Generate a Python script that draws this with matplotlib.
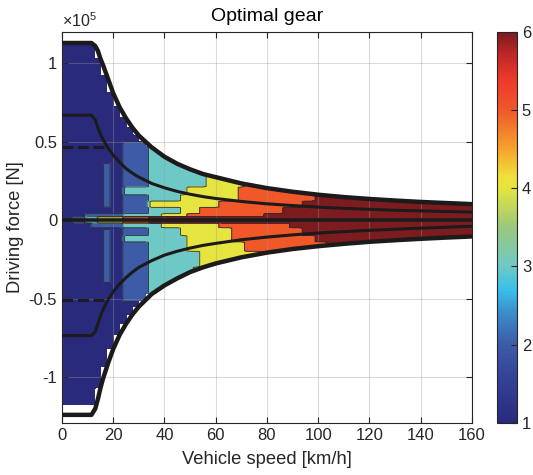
import numpy as np
import matplotlib
matplotlib.use("Agg")
import matplotlib.pyplot as plt
from matplotlib.colors import LinearSegmentedColormap, Normalize
import matplotlib.cm as cm

plt.rcParams['font.family'] = ['Liberation Sans', 'DejaVu Sans']
plt.rcParams['mathtext.fontset'] = 'custom'
plt.rcParams['mathtext.rm'] = 'Liberation Sans'

# ---------------------------
# Data: force envelopes (force in 1e5 N, speed in km/h)
# ---------------------------
env_speed = [0, 11.5, 13, 14, 15, 16, 18, 20, 22.5, 25, 27.5, 30, 35, 40, 45,
             50, 55, 60, 70, 80, 90, 100, 110, 120, 130, 140, 150, 160]
env_max = [1.13, 1.13, 1.11, 1.08, 1.03, 0.99, 0.90, 0.81, 0.72, 0.65, 0.59, 0.54,
           0.465, 0.405, 0.36, 0.325, 0.295, 0.275, 0.235, 0.205, 0.182, 0.163,
           0.148, 0.136, 0.126, 0.117, 0.11, 0.103]
env_min = [-1.24, -1.24, -1.20, -1.14, -1.07, -1.01, -0.91, -0.82, -0.73, -0.66,
           -0.60, -0.55, -0.47, -0.415, -0.37, -0.33, -0.30, -0.275, -0.236,
           -0.206, -0.183, -0.165, -0.15, -0.137, -0.127, -0.118, -0.11, -0.103]
inner_max = [0.67, 0.67, 0.64, 0.59, 0.55, 0.515, 0.46, 0.415, 0.37, 0.33, 0.30,
             0.275, 0.235, 0.207, 0.184, 0.166, 0.151, 0.139, 0.12, 0.105, 0.094,
             0.084, 0.076, 0.07, 0.064, 0.06, 0.056, 0.052]
inner_min = [-0.735, -0.735, -0.71, -0.66, -0.61, -0.57, -0.505, -0.455, -0.405,
             -0.365, -0.33, -0.30, -0.257, -0.222, -0.197, -0.177, -0.16, -0.147,
             -0.124, -0.107, -0.093, -0.081, -0.072, -0.064, -0.057, -0.05,
             -0.044, -0.038]

dash_speed = [0, 17]
dash_max = [0.465, 0.465]
dash_min = [-0.51, -0.51]

map_floor = -1.18  # lowest force covered by the gear map

# ---------------------------
# Data: gear map, shift speeds per force band
# ---------------------------
# positive force bands (lower edge), speeds where gear 1->2, 2->3, ... 5->6
band_lo_pos = [0.00, 0.02, 0.04, 0.08, 0.12, 0.16, 0.21, 0.30, 0.50]
shift_pos = [
    [3, 8, 15, 25, 35],
    [10, 24, 40, 50, 80],
    [24, 33, 47, 55, 86],
    [24, 33, 35, 62, 95],
    [24, 35, 47, 68, 100],
    [24, 24, 50, 70, 108],
    [24, 35, 57, 72, 111],
    [24, 35, 58, 999, 999],
    [999, 999, 999, 999, 999],
]
# negative force bands (|F| lower edge)
band_lo_neg = [0.00, 0.02, 0.05, 0.10, 0.14, 0.20, 0.30, 0.52]
shift_neg = [
    [3, 8, 15, 25, 35],
    [12, 24, 40, 62, 90],
    [24, 33, 47, 67, 95],
    [24, 24, 48, 67, 98],
    [24, 35, 50, 72, 105],
    [24, 35, 55, 80, 111],
    [24, 35, 52, 999, 999],
    [999, 999, 999, 999, 999],
]
# small islands inside gear 1: (v_lo, v_hi, F_lo, F_hi, gear)
islands = [
    (16, 18.5, 0.08, 0.36, 2),
    (16, 18.5, -0.40, -0.06, 2),
]

# colormap stops
cmap_vals = [1.0, 1.5, 2.0, 2.4, 2.7, 3.0, 3.5, 4.0, 4.15, 4.5, 5.0, 5.4, 5.7, 6.0]
cmap_cols = ['#2a2a7c', '#323f95', '#3d5ba6', '#3b8ccc', '#38c0ea', '#6ec9c6',
             '#9ac87c', '#e6e43e', '#f0e03a', '#f5a52d', '#f0582a', '#ec3a2b',
             '#c22828', '#7d1c1e']

# ---------------------------
# Build gear grid
# ---------------------------
v_grid = np.arange(0, 160.01, 2.5)
f_grid = np.arange(-1.30, 1.2001, 0.005)
V, F = np.meshgrid(v_grid, f_grid)

gear = np.ones_like(V)
for i, f in enumerate(f_grid):
    if f >= 0:
        b = np.searchsorted(band_lo_pos, f, side='right') - 1
        th = shift_pos[b]
    else:
        b = np.searchsorted(band_lo_neg, -f, side='right') - 1
        th = shift_neg[b]
    gear[i, :] = 1 + np.sum(v_grid[None, :] >= np.array(th)[:, None], axis=0)

for v_lo, v_hi, f_lo, f_hi, g in islands:
    gear[(V >= v_lo) & (V <= v_hi) & (F >= f_lo) & (F <= f_hi)] = g

top = np.interp(v_grid, env_speed, env_max)
bot = np.maximum(np.interp(v_grid, env_speed, env_min), map_floor)
mask = (F > top[None, :]) | (F < bot[None, :])
gear = np.ma.masked_array(gear, mask=mask)

pos = [(x - 1) / 5 for x in cmap_vals]
cmap = LinearSegmentedColormap.from_list('gear', list(zip(pos, cmap_cols)))
norm = Normalize(1, 6)

# ---------------------------
# Plot
# ---------------------------
fig = plt.figure(figsize=(5.33, 4.75), dpi=100)
ax = fig.add_axes([0.1163, 0.1101, 0.7692, 0.8225])

levels = [0.5, 1.5, 2.5, 3.5, 4.5, 5.5, 6.5]
ax.contourf(V, F, gear, levels=levels, cmap=cmap, norm=norm)
ax.contour(V, F, gear, levels=levels[1:-1], colors='#2b2b2b', linewidths=0.6)

line_col = '#1c1a1b'
ax.plot(env_speed, env_max, color=line_col, lw=3.2, zorder=4)
ax.plot(env_speed, env_min, color=line_col, lw=3.2, zorder=4)
ax.plot(env_speed, inner_max, color=line_col, lw=2.2, zorder=4)
ax.plot(env_speed, inner_min, color=line_col, lw=2.2, zorder=4)
ax.plot(dash_speed, dash_max, color=line_col, lw=2.2, ls=(0, (3.5, 1.6)), zorder=4)
ax.plot(dash_speed, dash_min, color=line_col, lw=2.2, ls=(0, (3.5, 1.6)), zorder=4)
ax.axhline(0, color=line_col, lw=2.6, zorder=4)

ax.set_xlim(0, 160)
ax.set_ylim(-1.29, 1.20)
ax.set_xticks(range(0, 161, 20))
ax.set_yticks([-1, -0.5, 0, 0.5, 1])
ax.set_yticklabels(['-1', '-0.5', '0', '0.5', '1'])
ax.grid(True, color='#9a9a9a', lw=0.8, alpha=0.35)
ax.set_axisbelow('line')
ax.tick_params(direction='in', top=True, right=True, labelsize=12,
               colors='#262626', length=4)
for s in ax.spines.values():
    s.set_color('#262626')

ax.set_title('Optimal gear', fontsize=14, color='#000000', pad=8)
ax.set_xlabel('Vehicle speed [km/h]', fontsize=13.2, color='#262626', labelpad=6)
ax.set_ylabel('Driving force [N]', fontsize=13.2, color='#262626', labelpad=3)
ax.text(0, 1.004, r'$\times10^{5}$', transform=ax.transAxes, ha='left',
        va='bottom', fontsize=11.5, color='#262626')

cax = fig.add_axes([0.9325, 0.1101, 0.0375, 0.8225])
sm = cm.ScalarMappable(norm=norm, cmap=cmap)
cb = fig.colorbar(sm, cax=cax, ticks=[1, 2, 3, 4, 5, 6])
cb.ax.tick_params(direction='in', labelsize=12, colors='#262626', length=4)
cb.outline.set_edgecolor('#262626')

fig.savefig('out.png', dpi=100)
